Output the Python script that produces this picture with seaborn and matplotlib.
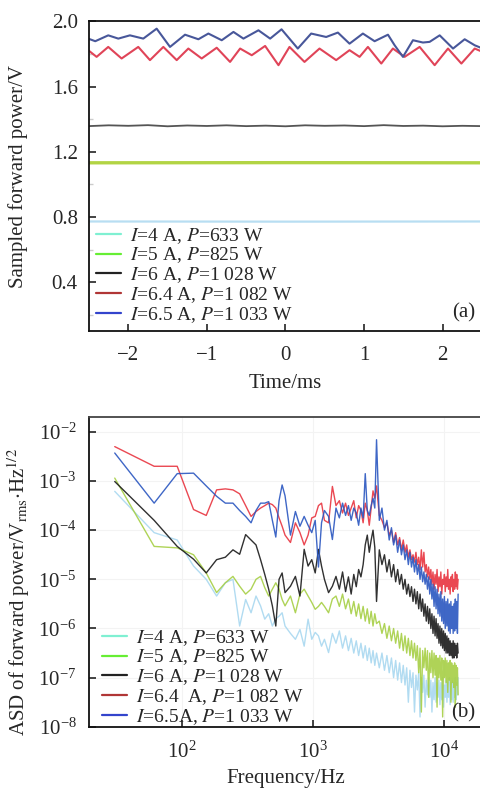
"""Forward power traces (a) and their amplitude spectral density (b)."""
import matplotlib
matplotlib.use("Agg")
import matplotlib.pyplot as plt
from matplotlib.lines import Line2D
import numpy as np
import pandas as pd
import seaborn as sns

SERIES = ["4A", "5A", "6A", "6.4A", "6.5A"]
LABELS_A = ["$I$=4 A, $P$=633 W", "$I$=5 A, $P$=825 W", "$I$=6 A, $P$=1 028 W",
            "$I$=6.4 A, $P$=1 082 W", "$I$=6.5 A, $P$=1 033 W"]
LABELS_B = ["$I$=4 A, $P$=633 W", "$I$=5 A, $P$=825 W", "$I$=6 A, $P$=1 028 W",
            "$I$=6.4  A, $P$=1 082 W", "$I$=6.5A, $P$=1 033 W"]
LEGEND_COLORS = ["#7ff0d2", "#66ee33", "#222222", "#b03636", "#3344cc"]
LINE_COLORS_A = ["#b8def2", "#b2d444", "#555555", "#e04458", "#48579a"]
LINE_COLORS_B = ["#a9d8f0", "#a6cf45", "#1a1a1a", "#e8343f", "#2a56c0"]

# ---- panel (a): sampled forward power, V vs ms
t_blue = [-2.51, -2.42, -2.255, -2.127, -1.979, -1.809, -1.639, -1.469, -1.278, -1.108,
          -0.981, -0.811, -0.662, -0.535, -0.344, -0.195, -0.05, 0.157, 0.327, 0.518,
          0.667, 0.815, 0.985, 1.134, 1.304, 1.389, 1.495, 1.622, 1.749, 1.834,
          1.962, 2.132, 2.280, 2.408, 2.51]
v_blue = [1.894, 1.878, 1.914, 1.894, 1.914, 1.894, 1.955, 1.843, 1.918, 1.890,
          1.925, 1.884, 1.935, 1.894, 1.945, 1.894, 1.951, 1.833, 1.925, 1.904,
          1.931, 1.863, 1.925, 1.878, 1.918, 1.853, 1.782, 1.884, 1.870, 1.874,
          1.914, 1.833, 1.890, 1.853, 1.833]
t_red = [-2.51, -2.403, -2.255, -2.085, -1.873, -1.724, -1.554, -1.384, -1.236, -1.066,
         -0.875, -0.705, -0.577, -0.429, -0.259, -0.089, 0.051, 0.242, 0.433, 0.645,
         0.815, 0.943, 1.049, 1.219, 1.367, 1.516, 1.707, 1.898, 2.068, 2.238,
         2.408, 2.51]
v_red = [1.823, 1.782, 1.843, 1.772, 1.843, 1.762, 1.843, 1.762, 1.833, 1.772,
         1.838, 1.751, 1.833, 1.792, 1.849, 1.731, 1.843, 1.751, 1.833, 1.762,
         1.823, 1.782, 1.843, 1.741, 1.833, 1.782, 1.843, 1.731, 1.833, 1.741,
         1.833, 1.812]
t_black = [-2.51, -2.25, -2.0, -1.75, -1.5, -1.25, -1.0, -0.75, -0.5, -0.25, 0.0,
           0.25, 0.5, 0.75, 1.0, 1.25, 1.5, 1.75, 2.0, 2.25, 2.51]
v_black = [1.357, 1.362, 1.359, 1.363, 1.356, 1.361, 1.358, 1.362, 1.357, 1.360, 1.356,
           1.362, 1.359, 1.361, 1.357, 1.363, 1.358, 1.360, 1.356, 1.359, 1.357]
t_flat = [-2.51, 0.0, 2.51]
v_green = [1.132, 1.133, 1.132]
v_cyan = [0.772, 0.771, 0.772]

# ---- panel (b): ASD, FFT bins of 30.52 Hz, values as log10(V_rms/Hz^1/2)
BIN_HZ = 30.52
BINS = list(range(1, 21)) + list(range(22, 41, 2)) + list(range(43, 101, 3)) + list(range(105, 421, 5))

asd_cyan = ([-3.21, -4.05, -4.20, -4.73, -5.00, -5.34, -5.07, -5.00, -5.95, -5.41,
             -5.68, -5.34, -5.54, -5.81, -5.70, -5.95, -5.80, -5.75, -5.68, -5.95]
            + [-6.10, -6.22, -6.02, -6.36, -5.81, -6.22, -6.08, -6.15, -6.36, -6.22]
            + [-6.49, -6.10, -6.30, -6.05, -6.40, -6.15, -6.45, -6.20, -6.50, -6.25,
               -6.55, -6.30, -6.60, -6.35, -6.65, -6.40, -6.70, -6.45, -6.75, -6.50]
            + [-6.80, -6.50, -6.85, -6.55, -6.90, -6.60, -7.00, -6.65, -7.05, -6.70,
               -7.10, -6.75, -7.15, -6.80, -7.50, -6.85, -7.20, -6.90, -7.70, -6.95,
               -7.25, -6.90, -7.80, -7.00, -7.30, -6.95, -7.60, -7.05, -7.35, -7.00]
            + [-7.40, -7.05, -7.70, -7.10, -7.45, -7.00, -7.50, -7.10, -7.40, -7.05,
               -7.55, -7.10, -7.45, -7.00, -7.60, -7.15, -7.40, -7.05, -7.50, -7.10,
               -7.40, -7.00, -7.55, -7.10, -7.45, -7.05, -7.50, -7.10, -7.40, -7.00,
               -7.45, -7.10, -7.35, -7.00])
asd_green = ([-2.94, -4.33, -4.36, -4.50, -4.87, -5.27, -5.07, -4.94, -5.14, -5.30,
              -5.20, -5.00, -4.94, -5.17, -5.34, -5.20, -5.07, -5.20, -5.41, -5.54]
             + [-5.34, -5.68, -5.30, -5.20, -5.34, -5.47, -5.61, -5.55, -5.47, -5.55]
             + [-5.68, -5.40, -5.34, -5.55, -5.30, -5.60, -5.40, -5.70, -5.45, -5.75,
                -5.50, -5.80, -5.55, -5.85, -5.60, -5.90, -5.65, -5.95, -5.70, -5.90]
             + [-5.85, -6.10, -5.90, -6.20, -5.95, -6.25, -6.00, -6.30, -6.05, -6.40,
                -6.10, -6.45, -6.15, -6.50, -6.20, -6.55, -6.25, -6.60, -6.30, -6.65,
                -6.35, -6.90, -6.40, -7.70, -6.45, -6.80, -6.40, -6.85, -6.45, -7.40]
             + [-6.50, -6.90, -6.45, -7.00, -6.50, -6.95, -6.55, -7.60, -6.60, -7.00,
                -6.55, -7.05, -6.60, -7.80, -6.65, -7.00, -6.60, -7.10, -6.65, -7.30,
                -6.70, -7.05, -6.65, -7.50, -6.70, -7.10, -6.75, -7.20, -6.70, -7.60,
                -6.75, -7.15, -6.80, -7.35])
asd_black = ([-3.01, -3.80, -4.33, -4.59, -4.87, -4.60, -4.55, -4.40, -4.49, -4.09,
              -4.20, -4.30, -4.60, -4.90, -5.20, -5.54, -5.95, -5.00, -4.87, -5.27]
             + [-5.14, -4.94, -5.34, -4.39, -4.73, -4.60, -4.87, -4.39, -4.73, -5.00]
             + [-5.27, -5.14, -4.94, -5.20, -4.85, -5.25, -4.95, -5.30, -4.90, -5.15,
                -4.80, -4.95, -4.70, -4.30, -4.10, -4.45, -4.20, -4.00, -4.35, -5.45]
             + [-4.40, -4.70, -4.50, -4.85, -4.60, -4.95, -4.70, -5.05, -4.80, -5.10,
                -4.90, -5.20, -5.00, -5.30, -5.10, -5.35, -5.15, -5.45, -5.20, -5.50,
                -5.25, -5.60, -5.30, -5.65, -5.40, -5.75, -5.50, -5.85, -5.55, -5.90]
             + [-5.60, -6.00, -5.70, -6.10, -5.75, -6.15, -5.80, -6.20, -5.90, -6.30,
                -5.95, -6.35, -6.00, -6.40, -6.05, -6.45, -6.10, -6.50, -6.15, -6.50,
                -6.20, -6.55, -6.25, -6.55, -6.30, -6.60, -6.25, -6.60, -6.30, -6.55,
                -6.35, -6.60, -6.30, -6.50])
asd_red = ([-2.30, -2.70, -2.70, -3.58, -3.70, -3.18, -3.16, -3.18, -3.26, -3.50,
            -3.72, -3.62, -3.55, -3.50, -3.45, -3.48, -3.55, -3.75, -3.92, -4.10]
           + [-4.25, -3.85, -4.05, -4.30, -4.10, -3.75, -3.72, -3.50, -3.45, -3.80]
           + [-3.85, -3.11, -3.50, -3.40, -3.65, -3.45, -3.70, -3.55, -3.40, -3.75,
              -3.50, -3.60, -3.85, -3.45, -3.60, -3.90, -3.55, -3.20, -3.35, -3.10]
           + [-3.70, -3.80, -3.95, -3.85, -4.10, -4.00, -4.25, -4.05, -4.30, -4.15,
              -4.40, -4.20, -4.45, -4.30, -4.55, -4.40, -4.60, -4.50, -4.65, -4.45,
              -4.70, -4.55, -4.80, -4.40, -4.75, -4.45, -4.85, -4.70, -4.95, -4.75]
           + [-5.00, -4.80, -5.10, -4.85, -5.20, -4.90, -5.10, -4.80, -5.25, -4.95,
              -5.15, -4.85, -5.30, -5.00, -5.10, -4.90, -5.25, -4.95, -5.15, -4.80,
              -5.20, -5.00, -5.30, -4.95, -5.15, -4.90, -5.25, -5.00, -5.20, -4.85,
              -5.15, -4.90, -5.20, -5.00])
asd_blue = ([-2.43, -3.45, -2.85, -2.84, -3.10, -3.31, -3.45, -3.45, -3.60, -3.72,
             -3.85, -3.60, -3.45, -3.45, -3.42, -3.80, -4.14, -3.40, -3.08, -3.30]
            + [-4.10, -3.62, -3.92, -3.72, -3.90, -4.05, -3.80, -4.75, -3.85, -3.60]
            + [-3.72, -4.19, -3.55, -3.75, -3.45, -3.70, -3.50, -3.80, -3.55, -3.65,
               -3.90, -3.55, -3.75, -2.85, -3.60, -3.70, -3.50, -3.35, -3.55, -2.16]
            + [-3.80, -3.55, -4.00, -3.80, -4.20, -3.95, -4.30, -4.10, -4.45, -4.20,
               -4.50, -4.30, -4.60, -4.40, -4.70, -4.45, -4.75, -4.55, -4.85, -4.60,
               -4.90, -4.70, -5.00, -4.75, -5.05, -4.85, -5.10, -4.90, -5.20, -4.95]
            + [-5.30, -5.00, -5.40, -5.10, -5.55, -5.15, -5.60, -5.20, -5.70, -5.30,
               -5.75, -5.25, -5.85, -5.40, -5.90, -5.35, -6.00, -5.45, -5.95, -5.40,
               -6.05, -5.50, -6.10, -5.45, -6.00, -5.55, -6.10, -5.50, -6.05, -5.40,
               -6.00, -5.45, -6.10, -5.30])

FS = 15
LEG_FS = 14


def style_axis(ax):
    ax.spines["right"].set_visible(False)
    for side in ["left", "bottom", "top"]:
        ax.spines[side].set_linewidth(1.3)
        ax.spines[side].set_color("#111111")
    ax.tick_params(which="major", direction="in", length=5, width=1.1, labelsize=FS,
                   right=False, top=False, color="#111111")


def add_legend(ax, labels, anchor):
    handles = [Line2D([], [], color=c, lw=1.6) for c in LEGEND_COLORS]
    ax.legend(handles, labels, loc="lower left", bbox_to_anchor=anchor, frameon=False,
              fontsize=LEG_FS, handlelength=1.3, handletextpad=0.45, labelspacing=0.0,
              borderpad=0, borderaxespad=0)


def main():
    sns.set_style("ticks")
    plt.rcParams["font.family"] = ["Liberation Serif", "DejaVu Serif"]
    plt.rcParams["mathtext.fontset"] = "stix"
    plt.rcParams["axes.unicode_minus"] = True

    fig = plt.figure(figsize=(4.81, 7.90), dpi=100)
    ax1 = fig.add_axes([0.185, 0.581, 0.817, 0.392])
    ax2 = fig.add_axes([0.185, 0.080, 0.817, 0.392])

    # (a)
    top = pd.concat([
        pd.DataFrame({"t": t_flat, "v": v_cyan, "s": "4A"}),
        pd.DataFrame({"t": t_flat, "v": v_green, "s": "5A"}),
        pd.DataFrame({"t": t_black, "v": v_black, "s": "6A"}),
        pd.DataFrame({"t": t_red, "v": v_red, "s": "6.4A"}),
        pd.DataFrame({"t": t_blue, "v": v_blue, "s": "6.5A"}),
    ])
    widths = {"4A": 1.6, "5A": 2.4, "6A": 1.3, "6.4A": 1.5, "6.5A": 1.5}
    for name, col in zip(SERIES, LINE_COLORS_A):
        sub = top[top.s == name]
        sns.lineplot(data=sub, x="t", y="v", color=col, lw=widths[name], ax=ax1,
                     estimator=None, sort=False, legend=False)
    ax1.set_xlim(-2.5, 2.5)
    ax1.set_ylim(0.1, 2.0)
    ax1.set_xticks([-2, -1, 0, 1, 2])
    ax1.set_yticks([0.4, 0.8, 1.2, 1.6, 2.0])
    ax1.set_yticklabels(["0.4", "0.8", "1.2", "1.6", "2.0"])
    ax1.set_yticks([0.2, 0.6, 1.0, 1.4, 1.8], minor=True)
    style_axis(ax1)
    ax1.tick_params(which="minor", direction="in", length=3, width=1, color="#cccccc",
                    left=True, bottom=False)
    ax1.tick_params(axis="x", pad=11)
    ax1.tick_params(axis="y", pad=8)
    ax1.set_xlabel("Time/ms", fontsize=FS, labelpad=6)
    ax1.set_ylabel("Sampled forward power/V", fontsize=FS)
    ax1.yaxis.set_label_coords(-0.155, 0.5)
    ax1.text(0.982, 0.058, "(a)", transform=ax1.transAxes, ha="right", va="center",
             fontsize=FS)
    add_legend(ax1, LABELS_A, (0.018, 0.02))

    # (b)
    freq = np.array(BINS) * BIN_HZ
    rows = []
    for name, vals in zip(SERIES, [asd_cyan, asd_green, asd_black, asd_red, asd_blue]):
        rows.append(pd.DataFrame({"f": freq, "asd": np.power(10.0, vals), "s": name}))
    spec = pd.concat(rows)
    for name, col in zip(SERIES, LINE_COLORS_B):
        sub = spec[spec.s == name]
        sns.lineplot(data=sub, x="f", y="asd", color=col, lw=1.0, ax=ax2,
                     estimator=None, sort=False, legend=False, alpha=0.9)
    ax2.set_xscale("log")
    ax2.set_yscale("log")
    ax2.set_xlim(19.4, 19500)
    ax2.set_ylim(1e-8, 10 ** -1.7)
    ax2.set_xticks([1e2, 1e3, 1e4])
    ax2.set_yticks([1e-8, 1e-7, 1e-6, 1e-5, 1e-4, 1e-3, 1e-2])
    ax2.minorticks_off()
    ax2.grid(True, which="major", color="#f3f3f3", lw=0.8)
    ax2.set_axisbelow(True)
    style_axis(ax2)
    ax2.spines["top"].set_color("#444444")
    ax2.tick_params(axis="x", pad=11)
    ax2.tick_params(axis="y", pad=9)
    ax2.set_xlabel("Frequency/Hz", fontsize=FS, labelpad=4)
    ax2.set_ylabel(r"ASD of forward power/V$_{\mathrm{rms}}$$\cdot$Hz$^{1/2}$", fontsize=FS)
    ax2.yaxis.set_label_coords(-0.145, 0.435)
    ax2.text(0.982, 0.045, "(b)", transform=ax2.transAxes, ha="right", va="center",
             fontsize=FS)
    add_legend(ax2, LABELS_B, (0.033, 0.0))

    fig.savefig("out.png", dpi=100)
    plt.close(fig)


if __name__ == "__main__":
    main()
